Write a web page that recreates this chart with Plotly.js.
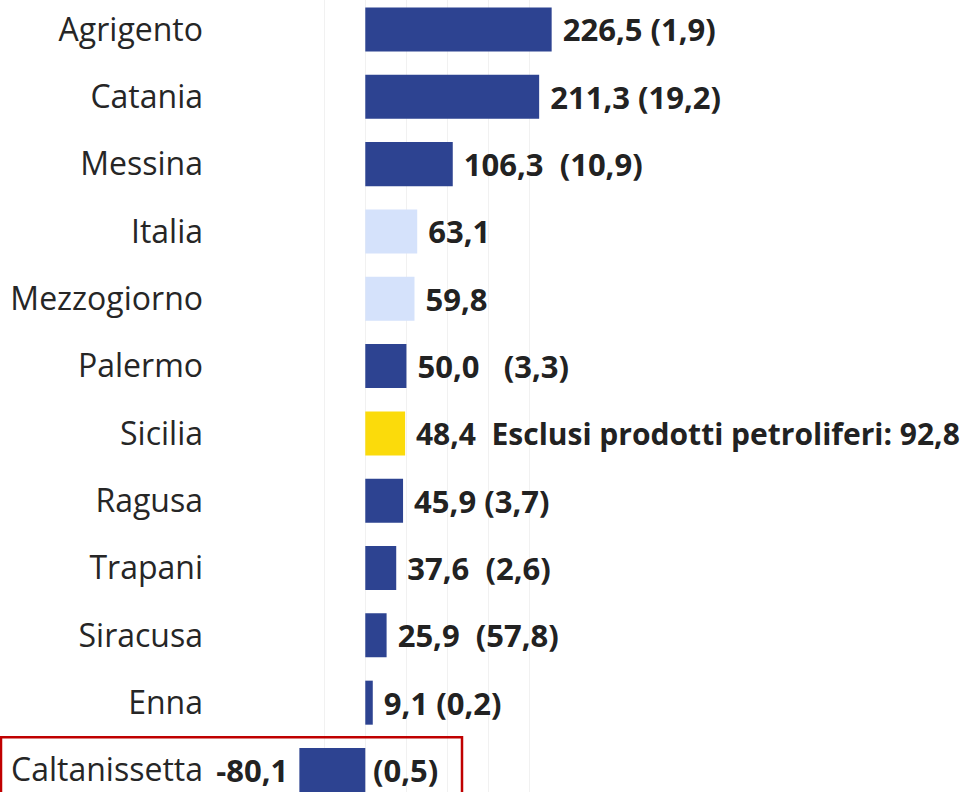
<!DOCTYPE html>
<html>
<head>
<meta charset="utf-8">
<script src="https://cdn.plot.ly/plotly-3.0.1.min.js"></script>
<style>html,body{margin:0;padding:0;background:#fff;}#chart{width:969px;height:792px;}</style>
</head>
<body>
<div id="chart"></div>
<script>
// Data
const categories = ['Agrigento','Catania','Messina','Italia','Mezzogiorno','Palermo','Sicilia','Ragusa','Trapani','Siracusa','Enna','Caltanissetta'];
const values = [226.5, 211.3, 106.3, 63.1, 59.8, 50.0, 48.4, 45.9, 37.6, 25.9, 9.1, -80.1];
const notes = ['(1,9)', '(19,2)', '(10,9)', '', '', '(3,3)', 'Esclusi prodotti petroliferi: 92,8', '(3,7)', '(2,6)', '(57,8)', '(0,2)', '(0,5)'];

// Styling (not data)
const NB = '\u00A0';
const gaps = {Messina: 2, Palermo: 3, Sicilia: 2, Trapani: 2, Siracusa: 2};
const sizeFor = {Sicilia: 30};
const colorFor = {Italia: '#D5E2FB', Mezzogiorno: '#D5E2FB', Sicilia: '#FBDB0B'};
const defaultColor = '#2D4391';
const fmt = v => v.toFixed(1).replace('.', ',');

const barText = categories.map((c, i) => {
  const v = values[i];
  if (v < 0) return fmt(v) + NB;
  const sep = NB.repeat(gaps[c] || 1);
  return NB + fmt(v) + (notes[i] ? sep + notes[i] : '');
});

const negIdx = values.map((v, i) => v < 0 ? i : -1).filter(i => i >= 0);

const trace = {
  type: 'bar',
  orientation: 'h',
  y: categories,
  x: values,
  text: barText,
  textposition: 'outside',
  cliponaxis: false,
  constraintext: 'none',
  textfont: {family: 'Open Sans', size: categories.map(c => sizeFor[c] || 31), color: '#222222', weight: 'bold'},
  marker: {color: categories.map(c => colorFor[c] || defaultColor), line: {width: 0}},
  hoverinfo: 'skip'
};

const annotations = negIdx.map(i => ({
  x: 0, y: categories[i], xref: 'x', yref: 'y',
  text: notes[i], showarrow: false, xanchor: 'left', yanchor: 'middle',
  xshift: 6, font: {family: 'Open Sans', size: 31, color: '#222222', weight: 'bold'}
}));

const layout = {
  width: 969, height: 792,
  margin: {l: 283, r: 398, t: 0, b: 0, pad: 0},
  paper_bgcolor: '#ffffff', plot_bgcolor: '#ffffff',
  showlegend: false,
  bargap: 0.346,
  xaxis: {
    range: [-100, 250], dtick: 50, tick0: 0,
    showgrid: true, gridcolor: '#F1F1F1', gridwidth: 1,
    zeroline: false, showticklabels: false, ticks: '', showline: false, fixedrange: true
  },
  yaxis: {
    type: 'category',
    range: [11.327, -0.438],
    showgrid: false, zeroline: false, showline: false, ticks: '',
    ticklabelstandoff: 79,
    tickfont: {family: 'Open Sans', size: 32, color: '#262626'},
    fixedrange: true
  },
  annotations: annotations,
  shapes: [{
    type: 'rect', xref: 'paper', yref: 'paper',
    x0: (1 - 283) / 288, x1: (462 - 283) / 288,
    y0: -0.02, y1: (792 - 737.3) / 792,
    line: {color: '#C00000', width: 2.5}, fillcolor: 'rgba(0,0,0,0)', layer: 'above'
  }]
};

Plotly.newPlot('chart', [trace], layout, {displayModeBar: false, staticPlot: true});
</script>
</body>
</html>
